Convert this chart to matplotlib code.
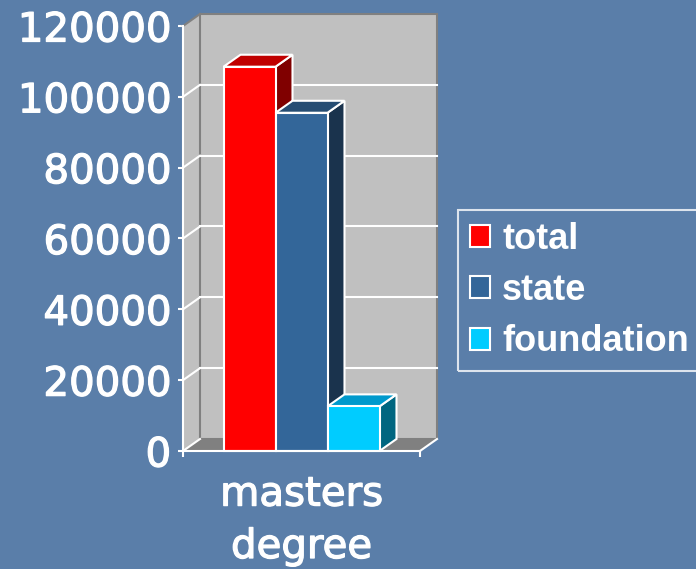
import matplotlib
matplotlib.use("Agg")
import matplotlib.pyplot as plt
import matplotlib.patheffects as pe
from matplotlib.patches import Polygon, Rectangle

# données
category = "masters\ndegree"
series = ["total", "state", "foundation"]
values = [108500, 95500, 12600]
yticks = [0, 20000, 40000, 60000, 80000, 100000, 120000]

# couleurs (face avant, dessus, côté)
front_cols = ["#ff0000", "#336699", "#00ccff"]
top_cols = ["#c00000", "#264d73", "#0099cc"]
side_cols = ["#800000", "#1a334d", "#006680"]
BG = "#5a7ea9"
WALL = "#c0c0c0"
FLOOR = "#808080"

fig = plt.figure(figsize=(6.96, 5.69), dpi=100, facecolor=BG)
ax = fig.add_axes([183 / 696, 118 / 569, 237 / 696, 425 / 569])
ax.set_xlim(-0.5, 0.5)
ax.set_ylim(0, 120000)
ax.patch.set_visible(False)

# profondeur de l'effet 3D, en unités de données
DX = 17 / 237
DY = 12 / 425 * 120000
W = 52 / 237
ymax = yticks[-1]

# murs et sol
ax.add_patch(Polygon([(-0.5, 0), (-0.5 + DX, DY), (-0.5 + DX, ymax + DY), (-0.5, ymax)],
                     fc=WALL, ec="none", zorder=1, clip_on=False))
ax.add_patch(Rectangle((-0.5 + DX, DY), 1.0, ymax, fc=WALL, ec=FLOOR, lw=1.5,
                       zorder=1, clip_on=False))
ax.add_patch(Polygon([(-0.5, 0), (0.5, 0), (0.5 + DX, DY), (-0.5 + DX, DY)],
                     fc=FLOOR, ec="none", zorder=1.5, clip_on=False))
ax.plot([-0.5, -0.5 + DX], [ymax, ymax + DY], color=FLOOR, lw=1.5, zorder=1.6, clip_on=False)

# grille
for y in yticks[:-1]:
    if y > 0:
        ax.plot([-0.5 + DX, 0.5 + DX], [y + DY, y + DY], color="white", lw=1.5, zorder=2, clip_on=False)
    ax.plot([-0.5, -0.5 + DX], [y, y + DY], color="white", lw=1.5, zorder=2, clip_on=False)
ax.plot([0.5, 0.5 + DX], [0, DY], color="white", lw=1.5, zorder=2, clip_on=False)

# barres
bars = []
for i, (name, val) in enumerate(zip(series, values)):
    xc = (i - 1) * W
    x0, x1 = xc - W / 2, xc + W / 2
    z = 3 + i * 3
    ax.add_patch(Polygon([(x1, 0), (x1 + DX, DY), (x1 + DX, val + DY), (x1, val)],
                         fc=side_cols[i], ec="white", lw=1.5, zorder=z, clip_on=False))
    ax.add_patch(Polygon([(x0, val), (x0 + DX, val + DY), (x1 + DX, val + DY), (x1, val)],
                         fc=top_cols[i], ec="white", lw=1.5, zorder=z + 1, clip_on=False))
    b = ax.bar(xc, val, W, color=front_cols[i], edgecolor="white", lw=1.5,
               zorder=z + 2, label=name, clip_on=False)
    bars.append(b)

# axes
for s in ["top", "right"]:
    ax.spines[s].set_visible(False)
for s in ["left", "bottom"]:
    ax.spines[s].set_color("white")
    ax.spines[s].set_linewidth(1.5)
    ax.spines[s].set_zorder(20)

thick = [pe.withStroke(linewidth=0.9, foreground="white")]

ax.set_yticks(yticks)
ax.set_yticklabels([str(v) for v in yticks])
ax.tick_params(axis="y", direction="out", length=3.6, width=1.5, color="white",
               labelcolor="white", labelsize=29, pad=5)
ax.set_xticks([-0.5, 0.5])
ax.set_xticklabels(["", ""])
ax.set_xticks([0], minor=True)
ax.set_xticklabels([category], minor=True, linespacing=1.4)
ax.tick_params(axis="x", which="major", direction="out", length=4.3, width=1.5, color="white")
ax.tick_params(axis="x", which="minor", length=0, labelcolor="white", labelsize=29, pad=17)
for t in ax.get_yticklabels() + ax.get_xticklabels(minor=True):
    t.set_path_effects(thick)

# légende
leg = fig.legend(handles=bars, loc="upper left", bbox_to_anchor=(458 / 696, 1 - 210 / 569),
                 borderaxespad=0, frameon=True, fancybox=False,
                 prop={"family": "Liberation Sans", "weight": "bold", "size": 26},
                 handlelength=0.56, handleheight=0.56, handletextpad=0.33,
                 labelspacing=0.45, borderpad=0.33)
leg.get_frame().set_facecolor("none")
leg.get_frame().set_edgecolor("white")
leg.get_frame().set_linewidth(1.5)
for t in leg.get_texts():
    t.set_color("white")

fig.savefig("out.png", dpi=100, facecolor=BG)
